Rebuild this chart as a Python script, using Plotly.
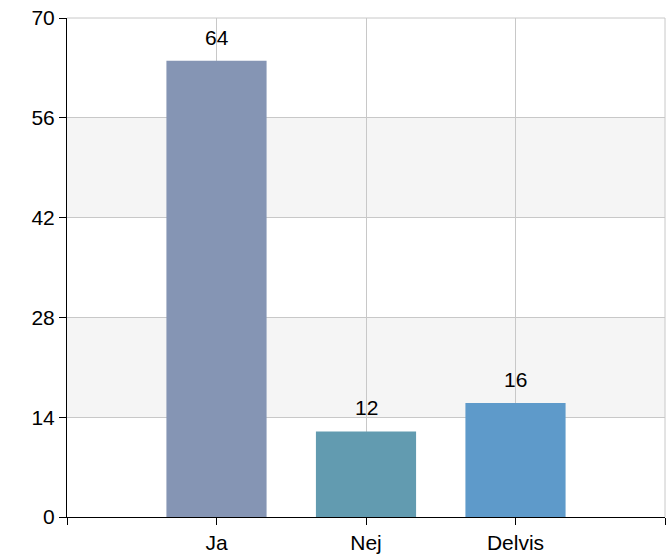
import plotly.graph_objects as go

categories = ["Ja", "Nej", "Delvis"]
values = [64, 12, 16]
colors = ["#8595b4", "#629bb0", "#5e9aca"]
y_ticks = [0, 14, 28, 42, 56, 70]

positions = list(range(len(categories)))
grid_color = "#c8c8c8"

fig = go.Figure()
fig.add_trace(go.Bar(
    x=positions,
    y=values,
    width=0.67,
    marker=dict(color=colors, line=dict(width=0)),
    showlegend=False,
    hoverinfo="skip",
))

# value labels above each bar
for pos, val in zip(positions, values):
    fig.add_annotation(
        x=pos, y=val, text=str(val), showarrow=False,
        yanchor="bottom", yshift=10,
        font=dict(size=21, color="black"),
    )

# alternating grey bands
for lo, hi in zip(y_ticks[1::2], y_ticks[2::2]):
    fig.add_shape(
        type="rect", xref="paper", yref="y", x0=0, x1=1, y0=lo, y1=hi,
        fillcolor="#f5f5f5", line=dict(width=0), layer="below",
    )

# grey frame on top and right (plotly skips grid lines on the edges)
fig.add_shape(type="line", xref="paper", yref="paper", x0=0, x1=1, y0=1, y1=1,
              line=dict(color=grid_color, width=1), layer="below")
fig.add_shape(type="line", xref="paper", yref="paper", x0=1, x1=1, y0=0, y1=1,
              line=dict(color=grid_color, width=1), layer="below")

fig.update_layout(
    width=672, height=554,
    margin=dict(l=67, r=7, t=18, b=37),
    plot_bgcolor="white",
    paper_bgcolor="white",
    font=dict(family="Liberation Sans, Arial, sans-serif", size=21, color="black"),
    xaxis=dict(
        range=[-1, len(categories)],
        tickmode="array",
        tickvals=[-1] + positions + [len(categories)],
        ticktext=[""] + categories + [""],
        ticks="outside", ticklen=7, tickcolor="black",
        showline=True, linecolor="black", linewidth=1,
        showgrid=True, gridcolor=grid_color, gridwidth=1,
        zeroline=False, fixedrange=True, automargin=False,
    ),
    yaxis=dict(
        range=[0, 70],
        tickmode="array",
        tickvals=y_ticks,
        ticks="outside", ticklen=7, tickcolor="black",
        showline=True, linecolor="black", linewidth=1,
        showgrid=True, gridcolor=grid_color, gridwidth=1,
        zeroline=False, fixedrange=True, automargin=False,
    ),
)

# drop the default body margin so the figure fills the window exactly
fig.write_html("out.html", config={"displayModeBar": False},
               post_script="document.body.style.margin = '0';")
